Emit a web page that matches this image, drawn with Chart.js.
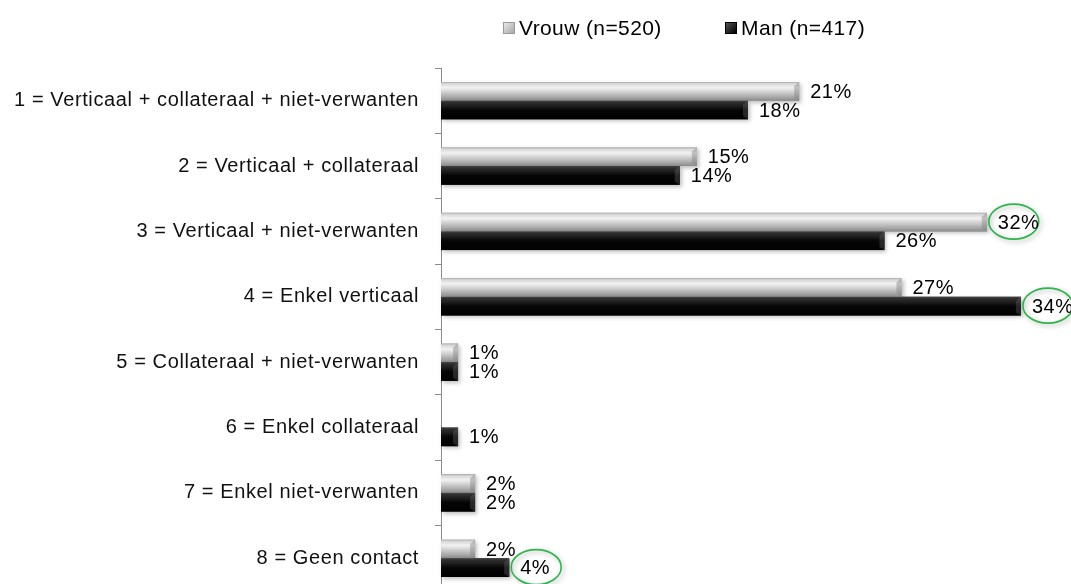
<!DOCTYPE html>
<html>
<head>
<meta charset="utf-8">
<script src="https://cdn.jsdelivr.net/npm/chart.js@4.4.1/dist/chart.umd.min.js"></script>
<style>
  html, body { margin: 0; padding: 0; background: #fff; overflow: hidden; }
  #barChart { position: absolute; left: 0; top: 0; }
  .legend { position: absolute; top: 16px; font-family: "Liberation Sans", Arial, sans-serif; font-size: 21px; letter-spacing: 0.4px; color: #000; white-space: nowrap; line-height: 24px; }
  .legend span.sw { display: inline-block; width: 12px; height: 12px; margin-right: 4px; vertical-align: 1px; box-sizing: border-box; }
</style>
</head>
<body>
<canvas id="barChart" width="1071" height="619"></canvas>
<div class="legend" style="left:503px"><span class="sw" style="background:linear-gradient(135deg,#e8e8e8,#a8a8a8);border:1px solid #999"></span>Vrouw (n=520)</div>
<div class="legend" style="left:725px"><span class="sw" style="background:linear-gradient(135deg,#555,#000);border:1px solid #000"></span>Man (n=417)</div>
<script>
var categories = [
    "1 = Verticaal + collateraal + niet-verwanten",
    "2 = Verticaal + collateraal",
    "3 = Verticaal + niet-verwanten",
    "4 = Enkel verticaal",
    "5 = Collateraal + niet-verwanten",
    "6 = Enkel collateraal",
    "7 = Enkel niet-verwanten",
    "8 = Geen contact"
];
var seriesNames = ["Vrouw (n=520)", "Man (n=417)"];
var vrouwValues = [21, 15, 32, 27, 1, 0, 2, 2];
var manValues = [18, 14, 26, 34, 1, 1, 2, 4];
// labels that get a green ring: [dataset, category]
var circled = [[0, 2], [1, 3], [1, 7]];

var fontFamily = '"Liberation Sans", Arial, sans-serif';

var gradStops = [
    [[0, '#a8a8a8'], [0.08, '#d6d6d6'], [0.3, '#f2f2f2'], [0.55, '#cecece'], [0.85, '#a2a2a2'], [1, '#8a8a8a']],
    [[0, '#444444'], [0.1, '#2e2e2e'], [0.3, '#1c1c1c'], [0.5, '#060606'], [1, '#000000']]
];

// shiny cylinder look drawn over the library's bars
var barLook = {
    id: 'barLook',
    afterDatasetsDraw(chart) {
        var ctx = chart.ctx;
        chart.data.datasets.forEach(function(ds, di) {
            var meta = chart.getDatasetMeta(di);
            meta.data.forEach(function(el, i) {
                if (!ds.data[i]) return;
                var p = el.getProps(['x', 'y', 'base', 'height'], true);
                var top = p.y - p.height / 2;
                var g = ctx.createLinearGradient(0, top, 0, top + p.height);
                gradStops[di].forEach(function(s) { g.addColorStop(s[0], s[1]); });
                ctx.save();
                ctx.shadowColor = 'rgba(0,0,0,0.25)';
                ctx.shadowBlur = 4;
                ctx.shadowOffsetX = 2;
                ctx.shadowOffsetY = 2;
                ctx.fillStyle = g;
                ctx.fillRect(p.base, top, p.x - p.base, p.height);
                ctx.restore();
                // bevelled end
                ctx.save();
                ctx.fillStyle = di === 0 ? 'rgba(130,130,130,0.45)' : 'rgba(120,120,120,0.3)';
                ctx.beginPath();
                ctx.moveTo(p.x - 5, top + 4);
                ctx.lineTo(p.x, top);
                ctx.lineTo(p.x, top + p.height);
                ctx.lineTo(p.x - 5, top + p.height - 3);
                ctx.closePath();
                ctx.fill();
                ctx.restore();
            });
        });
    }
};

var valueLabels = {
    id: 'valueLabels',
    afterDraw(chart) {
        var ctx = chart.ctx;
        ctx.save();
        ctx.font = '20px ' + fontFamily;
        ctx.letterSpacing = '0.5px';
        ctx.textBaseline = 'middle';
        ctx.textAlign = 'left';
        chart.data.datasets.forEach(function(ds, di) {
            var meta = chart.getDatasetMeta(di);
            meta.data.forEach(function(el, i) {
                var v = ds.data[i];
                if (!v) return;
                var txt = v + '%';
                var tx = el.x + 11;
                var ty = el.y + 1;
                var ring = circled.some(function(c) { return c[0] === di && c[1] === i; });
                if (ring) {
                    ctx.save();
                    ctx.shadowColor = 'rgba(0,0,0,0.3)';
                    ctx.shadowBlur = 5;
                    ctx.shadowOffsetX = 2;
                    ctx.shadowOffsetY = 2;
                    ctx.strokeStyle = '#2db54c';
                    ctx.lineWidth = 1.6;
                    ctx.beginPath();
                    ctx.ellipse(tx + 16, el.y - 0.5, 25, 17.5, 0, 0, Math.PI * 2);
                    ctx.stroke();
                    ctx.restore();
                }
                ctx.fillStyle = '#000';
                ctx.fillText(txt, tx, ty);
            });
        });
        ctx.restore();
    }
};

var spacing = {
    id: 'spacing',
    beforeDraw(chart) { chart.ctx.letterSpacing = '0.6px'; }
};

var ctxB = document.getElementById('barChart').getContext('2d');
var myBarChart = new Chart(ctxB, {
    type: 'bar',
    data: {
        labels: categories,
        datasets: [{
            label: seriesNames[0],
            data: vrouwValues,
            backgroundColor: '#c8c8c8'
        }, {
            label: seriesNames[1],
            data: manValues,
            backgroundColor: '#111111'
        }]
    },
    options: {
        indexAxis: 'y',
        responsive: false,
        maintainAspectRatio: false,
        animation: false,
        events: [],
        datasets: {
            bar: { categoryPercentage: 0.57, barPercentage: 1 }
        },
        layout: { padding: { top: 68, bottom: 0, left: 0, right: 16 } },
        plugins: {
            legend: { display: false },
            tooltip: { enabled: false }
        },
        scales: {
            x: {
                display: false,
                min: 0,
                max: 36
            },
            y: {
                afterFit: function(scale) { scale.width = 441; },
                border: { display: true, color: '#8a8a8a', width: 1 },
                grid: {
                    drawOnChartArea: false,
                    drawTicks: true,
                    tickLength: 6,
                    color: '#8a8a8a',
                    offset: true
                },
                ticks: {
                    padding: 16,
                    color: '#111',
                    font: { family: fontFamily, size: 20 }
                }
            }
        }
    },
    plugins: [spacing, barLook, valueLabels]
});
</script>
</body>
</html>
